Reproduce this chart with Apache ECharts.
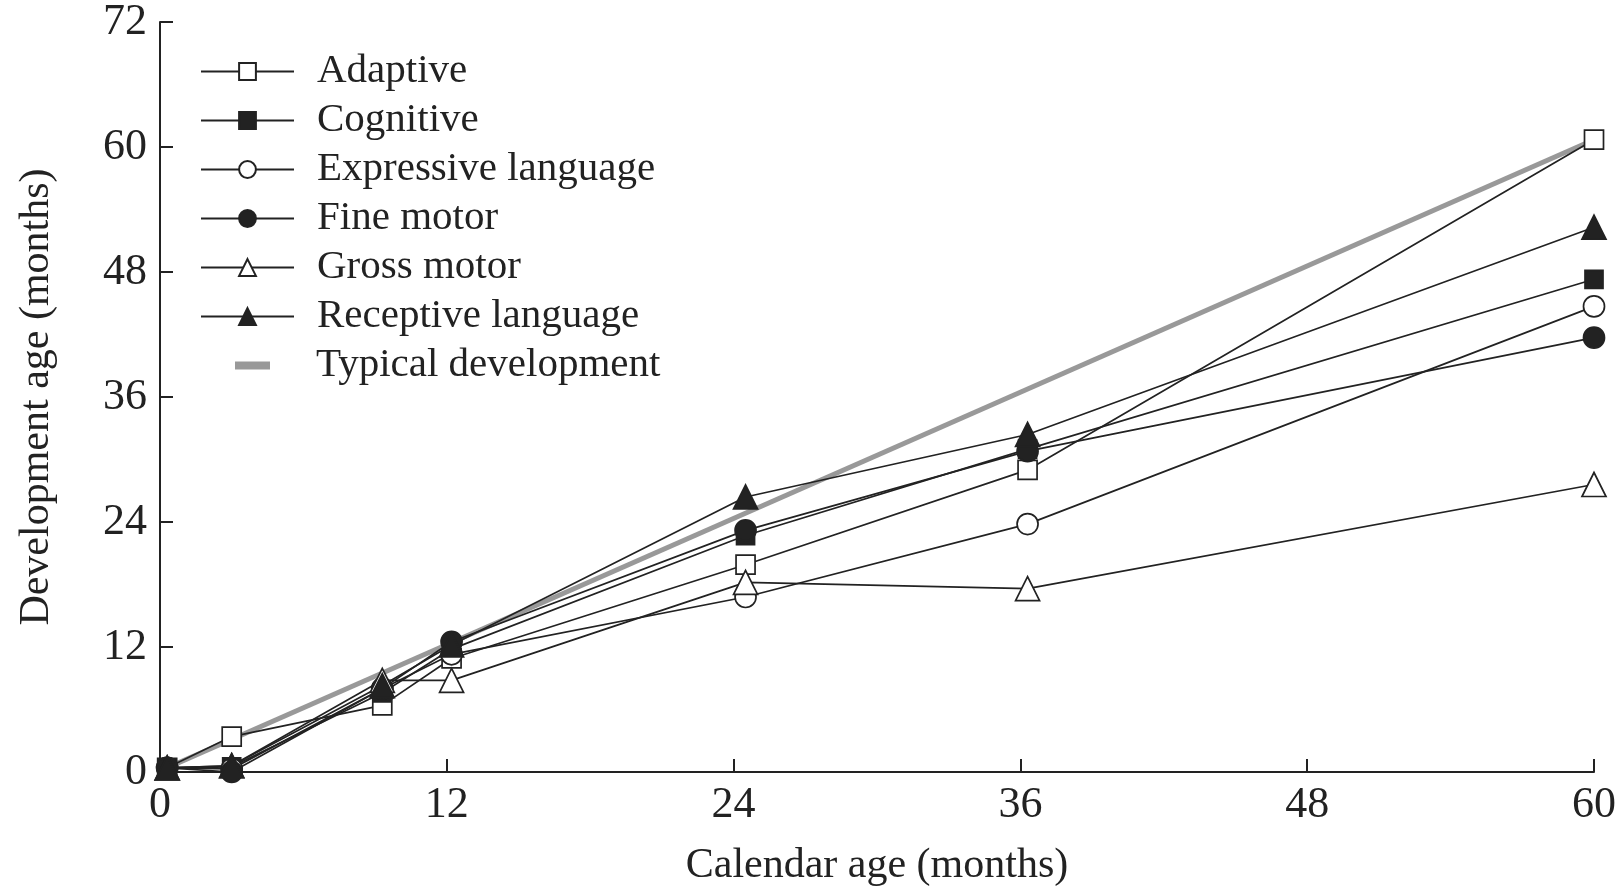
<!DOCTYPE html>
<html>
<head>
<meta charset="utf-8">
<script src="https://cdn.jsdelivr.net/npm/echarts@6/dist/echarts.min.js"></script>
<style>
html,body{margin:0;padding:0;background:#fff;}
#chart{width:1622px;height:892px;}
</style>
</head>
<body>
<div id="chart"></div>
<script>
// Calendar ages (months) at which assessments were made
var calendarAges = [0.3, 3, 9.3, 12.2, 24.5, 36.3, 60];
// Development age (months) per domain
var adaptive   = [0.4, 3.4, 6.4, 10.9, 19.9, 29.0, 60.7];
var cognitive  = [0.4, 0.5, 7.6, 11.8, 22.7, 31.0, 47.3];
var expressive = [0.4, 0.3, 8.0, 11.3, 16.8, 23.8, 44.7];
var fineMotor  = [0.4, 0.0, 8.0, 12.5, 23.2, 30.8, 41.7];
var grossMotor = [0.4, 0.6, 8.8, 8.8, 18.2, 17.6, 27.6];
var receptive  = [0.4, 0.6, 8.3, 12.2, 26.4, 32.4, 52.3];
// Typical development reference line
var typicalX = [0.3, 60];
var typicalY = [0.4, 60.7];
var xTicks = [0, 12, 24, 36, 48, 60];
var yTicks = [0, 12, 24, 36, 48, 60, 72];

function pairs(xs, ys){ return xs.map(function(x,i){ return [x, ys[i]]; }); }

var FONT = '"Liberation Serif", "DejaVu Serif", serif';
var INK = '#222';

function domain(name, values, symbol, filled, size){
  return {
    name: name,
    type: 'line',
    data: pairs(calendarAges, values),
    symbol: symbol,
    symbolSize: size,
    showSymbol: true,
    lineStyle: {color: INK, width: 1.7},
    itemStyle: {color: filled ? INK : '#fff', borderColor: INK, borderWidth: 1.7},
    z: 3,
    animation: false
  };
}

var chart = echarts.init(document.getElementById('chart'), null, {renderer: 'canvas'});
chart.setOption({
  backgroundColor: '#fff',
  animation: false,
  grid: {left: 160, right: 28, top: 21, bottom: 118, containLabel: false},
  xAxis: {
    type: 'value', min: 0, max: 60, interval: 12,
    name: 'Calendar age (months)', nameLocation: 'middle', nameGap: 73,
    nameTextStyle: {fontFamily: FONT, fontSize: 42, color: INK},
    axisLine: {show: true, onZero: false, lineStyle: {color: INK, width: 2}},
    axisTick: {show: true, inside: true, length: 13, lineStyle: {color: INK, width: 2}},
    axisLabel: {fontFamily: FONT, fontSize: 44, color: INK, margin: 11,
      formatter: function(v){ return xTicks.indexOf(v) >= 0 ? String(v) : ''; }},
    splitLine: {show: false}
  },
  yAxis: {
    type: 'value', min: 0, max: 72, interval: 12,
    name: 'Development age (months)', nameLocation: 'middle', nameGap: 102,
    nameTextStyle: {fontFamily: FONT, fontSize: 42, color: INK},
    axisLine: {show: true, onZero: false, lineStyle: {color: INK, width: 2}},
    axisTick: {show: true, inside: true, length: 13, lineStyle: {color: INK, width: 2}},
    axisLabel: {fontFamily: FONT, fontSize: 44, color: INK, margin: 13,
      formatter: function(v){ return yTicks.indexOf(v) >= 0 ? String(v) : ''; }},
    splitLine: {show: false}
  },
  legend: [{
    orient: 'vertical', left: 200, top: 47, padding: 0,
    itemWidth: 93, itemHeight: 21, itemGap: 0,
    data: ['Adaptive', 'Cognitive', 'Expressive language', 'Fine motor', 'Gross motor', 'Receptive language'],
    textStyle: {fontFamily: FONT, fontSize: 41, color: INK, lineHeight: 49, padding: [0, 0, 0, 18]},
    selectedMode: false
  }, {
    orient: 'vertical', left: 235, top: 341, padding: 0,
    itemWidth: 35, itemHeight: 8, itemGap: 0,
    data: [{name: 'Typical development', icon: 'rect'}],
    textStyle: {fontFamily: FONT, fontSize: 41, color: INK, lineHeight: 49, padding: [0, 0, 0, 41]},
    selectedMode: false
  }],
  series: [
    {
      name: 'Typical development', type: 'line',
      data: pairs(typicalX, typicalY),
      symbol: 'none',
      lineStyle: {color: '#999', width: 5},
      itemStyle: {color: '#999'},
      z: 2, animation: false
    },
    domain('Adaptive', adaptive, 'rect', false, 19),
    domain('Cognitive', cognitive, 'rect', true, 18),
    domain('Expressive language', expressive, 'circle', false, 21),
    domain('Fine motor', fineMotor, 'circle', true, 21),
    domain('Gross motor', grossMotor, 'triangle', false, 24),
    domain('Receptive language', receptive, 'triangle', true, 24)
  ]
});
</script>
</body>
</html>
